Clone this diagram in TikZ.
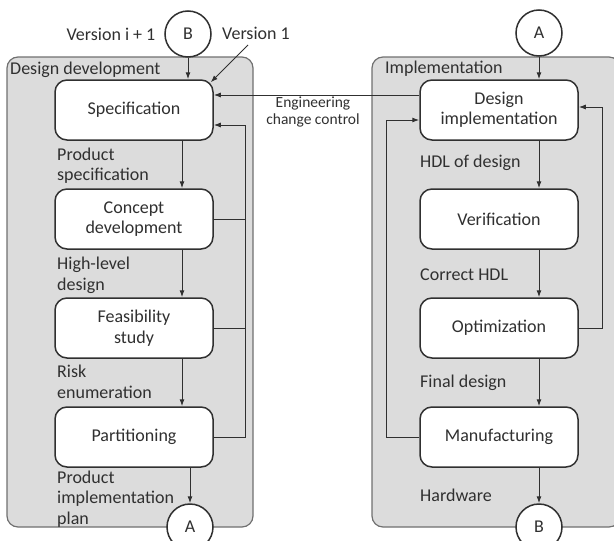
\documentclass[tikz,border=0pt]{standalone}
\usepackage{fontspec}
\setmainfont{Carlito}
\usetikzlibrary{arrows.meta}
\definecolor{panelfill}{HTML}{DCDCDC}
\definecolor{panelline}{HTML}{707070}
\definecolor{ink}{HTML}{303030}
\tikzset{
  panel/.style={draw=panelline, fill=panelfill, line width=1.2pt, rounded corners=11pt},
  stepbox/.style={draw=ink, fill=white, line width=1.5pt, rounded corners=12pt, minimum width=158pt, minimum height=60pt, align=center, font=\fontsize{18}{20.5}\selectfont, text=ink},
  conn/.style={draw=ink, fill=white, line width=1.5pt, circle, minimum size=46pt, inner sep=0pt, font=\fontsize{18}{20}\selectfont, text=ink},
  lbl/.style={font=\fontsize{18}{20.5}\selectfont, text=ink, align=left, inner sep=0pt},
  line/.style={draw=ink, line width=1pt},
  arr/.style={line, -{Latex[length=7pt,width=5pt]}}
}
\begin{document}
\begin{tikzpicture}[x=1pt,y=-1pt]
\useasboundingbox (0,0) rectangle (614,541);
% panels
\draw[panel] (7,57) rectangle (253,527);
\draw[panel] (372,57) rectangle (620,527);
\node[lbl, anchor=west] (ddlbl) at (10,70) {Design development};
\node[lbl, anchor=west] (imlbl) at (385,69) {Implementation};
% left boxes
\node[stepbox] (spec) at (134,110) {Specification};
\node[stepbox] (concept) at (134,219) {Concept\\development};
\node[stepbox] (fea) at (134,328) {Feasibility\\study};
\node[stepbox] (part) at (134,437) {Partitioning};
% right boxes
\node[stepbox] (impl) at (499,110) {Design\\implementation};
\node[stepbox] (verif) at (499,219) {Verification};
\node[stepbox] (optim) at (499,328) {Optimization};
\node[stepbox] (manuf) at (499,437) {Manufacturing};
% connectors
\node[conn] (Btop) at (188,34) {B};
\node[conn] (Abot) at (190,527) {A};
\node[conn] (Atop) at (539,33) {A};
\node[conn] (Bbot) at (539,527) {B};
% labels
\node[lbl] (vi) at (111,34) {Version i + 1};
\node[lbl] (v1) at (256,33) {Version 1};
\coordinate (v1end) at (248,45);
\node[lbl, anchor=west] (l1) at (57,165.5) {Product\\specification};
\node[lbl, anchor=west] (l2) at (57,275.5) {High-level\\design};
\node[lbl, anchor=west] (l3) at (57,382) {Risk\\enumeration};
\node[lbl, anchor=west] (l4) at (57,499) {Product\\implementation\\plan};
\node[lbl, align=center, font=\fontsize{15.5}{17.5}\selectfont] (ecc) at (313,112) {Engineering\\change control};
\node[lbl, anchor=west] (r1) at (420,163) {HDL of design};
\node[lbl, anchor=west] (r2) at (420,275) {Correct HDL};
\node[lbl, anchor=west] (r3) at (420,383) {Final design};
\node[lbl, anchor=west] (r4) at (420,495) {Hardware};
% left arrows
\draw[arr] (Btop.south) -- (Btop.south |- spec.north);
\draw[arr] (v1end) -- ([xshift=-3pt,yshift=-3pt]spec.north east);
\draw[arr] ([xshift=48pt]spec.south) -- ([xshift=48pt]concept.north);
\draw[arr] ([xshift=48pt]concept.south) -- ([xshift=48pt]fea.north);
\draw[arr] ([xshift=48pt]fea.south) -- ([xshift=48pt]part.north);
\draw[arr] ([xshift=56pt]part.south) -- (Abot.north);
\draw[arr] (part.east) -| (245,125) -- ([yshift=-15pt]spec.east);
\draw[line] (concept.east) -- (245,219);
\draw[line] (fea.east) -- (245,328);
\draw[arr] ([yshift=15pt]impl.west) -- ([yshift=15pt]spec.east);
% right arrows
\draw[arr] (Atop.south) -- (Atop.south |- impl.north);
\draw[arr] ([xshift=40pt]impl.south) -- ([xshift=40pt]verif.north);
\draw[arr] ([xshift=40pt]verif.south) -- ([xshift=40pt]optim.north);
\draw[arr] ([xshift=40pt]optim.south) -- ([xshift=40pt]manuf.north);
\draw[arr] ([xshift=40pt]manuf.south) -- (Bbot.north);
\draw[arr] (optim.east) -| (602,107) -- ([yshift=3pt]impl.east);
\draw[arr] (manuf.west) -| (386,120) -- ([yshift=-10pt]impl.west);
\end{tikzpicture}
\end{document}
